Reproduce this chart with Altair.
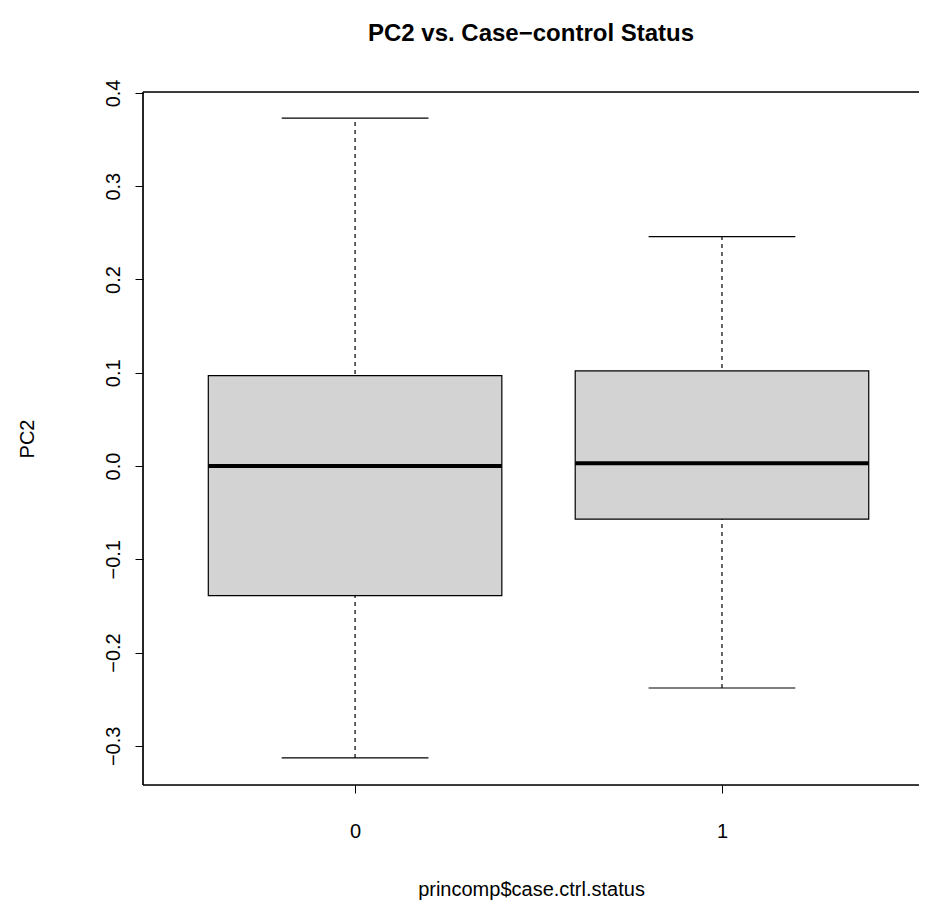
import pandas as pd
import altair as alt

groups = [0, 1]
whisker_lo = [-0.313, -0.238]
q1 = [-0.139, -0.057]
median = [0.0, 0.003]
q3 = [0.097, 0.102]
whisker_hi = [0.373, 0.246]

df = pd.DataFrame({'g': groups, 'lo': whisker_lo, 'q1': q1, 'med': median,
                   'q3': q3, 'hi': whisker_hi})

W, H = 776, 693
xs = alt.Scale(domain=[-0.578, 1.537], nice=False, zero=False)
ys = alt.Scale(domain=[-0.342, 0.401], nice=False, zero=False)

base = alt.Chart(df).transform_calculate(
    bl='datum.g - 0.4', br='datum.g + 0.4', cl='datum.g - 0.2', cr='datum.g + 0.2'
)

FS = 20
xaxis = alt.Axis(values=[0, 1], format='d', title='princomp$case.ctrl.status',
                 grid=False, domain=False, tickColor='black', tickSize=8,
                 labelFontSize=FS, labelPadding=28, titleFontSize=FS,
                 titleFontWeight='normal', titlePadding=38, labelColor='black',
                 titleColor='black', labelFont='Liberation Sans', titleFont='Liberation Sans')
yaxis = alt.Axis(values=[-0.3, -0.2, -0.1, 0.0, 0.1, 0.2, 0.3, 0.4], format='.1f',
                 title='PC2', grid=False, domain=False, tickColor='black', tickSize=8,
                 labelAngle=270, labelAlign='center', labelBaseline='bottom',
                 labelFontSize=FS, labelPadding=12, titleFontSize=FS,
                 titleFontWeight='normal', titlePadding=66, labelColor='black',
                 titleColor='black', labelFont='Liberation Sans', titleFont='Liberation Sans')

whisk = base.mark_rule(color='black', strokeDash=[4, 4], strokeWidth=1.2).encode(
    x=alt.X('g:Q', scale=xs, axis=xaxis), y=alt.Y('lo:Q', scale=ys, axis=yaxis), y2='hi:Q')
box = base.mark_rect(fill='#d3d3d3', stroke='black', strokeWidth=1.2).encode(
    x=alt.X('bl:Q', scale=xs), x2='br:Q', y=alt.Y('q1:Q', scale=ys), y2='q3:Q')
med = base.mark_rule(color='black', strokeWidth=4).encode(
    x=alt.X('bl:Q', scale=xs), x2='br:Q', y=alt.Y('med:Q', scale=ys))
caplo = base.mark_rule(color='black', strokeWidth=1.2).encode(
    x=alt.X('cl:Q', scale=xs), x2='cr:Q', y=alt.Y('lo:Q', scale=ys))
caphi = base.mark_rule(color='black', strokeWidth=1.2).encode(
    x=alt.X('cl:Q', scale=xs), x2='cr:Q', y=alt.Y('hi:Q', scale=ys))
frame_t = alt.Chart(df).mark_rule(color='black', strokeWidth=1.2).encode(
    x=alt.value(0), x2=alt.value(W), y=alt.value(0))
frame_b = alt.Chart(df).mark_rule(color='black', strokeWidth=1.2).encode(
    x=alt.value(0), x2=alt.value(W), y=alt.value(H))
frame_l = alt.Chart(df).mark_rule(color='black', strokeWidth=1.2).encode(
    x=alt.value(0), y=alt.value(0), y2=alt.value(H))

chart = alt.layer(whisk, box, med, caplo, caphi, frame_t, frame_b, frame_l).properties(
    width=W, height=H,
    title=alt.TitleParams('PC2 vs. Case\u2212control Status', fontSize=24, fontWeight='bold',
                          font='Liberation Sans', color='black', offset=33),
    autosize=alt.AutoSizeParams(type='none'),
    padding={'left': 135, 'top': 84, 'right': 0, 'bottom': 120},
).configure_view(stroke=None).configure(background='white')

chart.save("out.html", embed_options={"renderer": "svg", "actions": False})
